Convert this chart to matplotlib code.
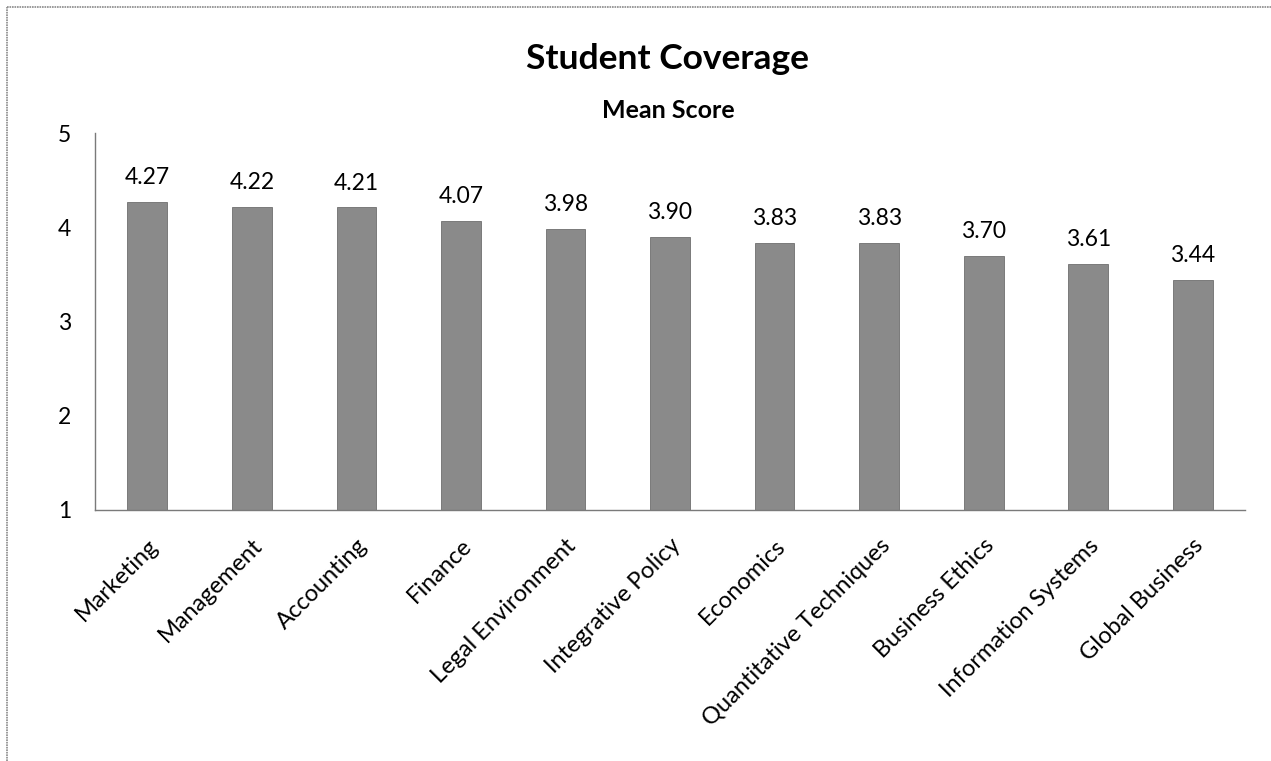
import matplotlib.pyplot as plt
from matplotlib.lines import Line2D

# Data
categories = ["Marketing", "Management", "Accounting", "Finance", "Legal Environment",
              "Integrative Policy", "Economics", "Quantitative Techniques", "Business Ethics",
              "Information Systems", "Global Business"]
mean_scores = [4.27, 4.22, 4.21, 4.07, 3.98, 3.90, 3.83, 3.83, 3.70, 3.61, 3.44]
y_ticks = [1, 2, 3, 4, 5]

plt.rcParams["font.family"] = ["Lato", "DejaVu Sans"]

fig = plt.figure(figsize=(12.71, 7.61), dpi=100)
W, H = 1271, 761
ax = fig.add_axes([95 / W, 1 - 510 / H, (1245 - 95) / W, (510 - 133) / H])

x = range(len(categories))
ax.bar(x, [v - 1 for v in mean_scores], bottom=1, width=0.38,
       color="#8a8a8a", edgecolor="#6f6f6f", linewidth=0.6)

for xi, v in zip(x, mean_scores):
    ax.annotate(f"{v:.2f}", (xi, v), xytext=(0, 10), textcoords="offset points",
                ha="center", va="bottom", fontsize=16.5)

ax.set_xlim(-0.5, len(categories) - 0.5)
ax.set_ylim(1, 5)
ax.set_yticks(y_ticks)
ax.set_yticklabels([str(t) for t in y_ticks], fontsize=16.5)
ax.set_xticks(list(x))
ax.set_xticklabels(categories, rotation=45, ha="right", rotation_mode="anchor", fontsize=17)
ax.tick_params(axis="y", length=0, pad=17)
ax.tick_params(axis="x", length=0, pad=18)

for side in ["top", "right"]:
    ax.spines[side].set_visible(False)
for side in ["left", "bottom"]:
    ax.spines[side].set_color("#7a7a7a")
    ax.spines[side].set_linewidth(1.0)

fig.text(668 / W, 1 - 59 / H, "Student Coverage", ha="center", va="center",
         fontsize=25.5, fontweight="bold")
fig.text(668 / W, 1 - 110 / H, "Mean Score", ha="center", va="center",
         fontsize=18, fontweight="bold")

# outer chart border (left and top visible in the scan)
fig.add_artist(Line2D([7 / W, 7 / W], [0, 1 - 7 / H], color="#8a8a8a", lw=1.2, ls=(0, (1, 0.5))))
fig.add_artist(Line2D([7 / W, 1], [1 - 7 / H, 1 - 7 / H], color="#8a8a8a", lw=1.2, ls=(0, (1, 0.5))))

fig.savefig("out.png", dpi=100)
